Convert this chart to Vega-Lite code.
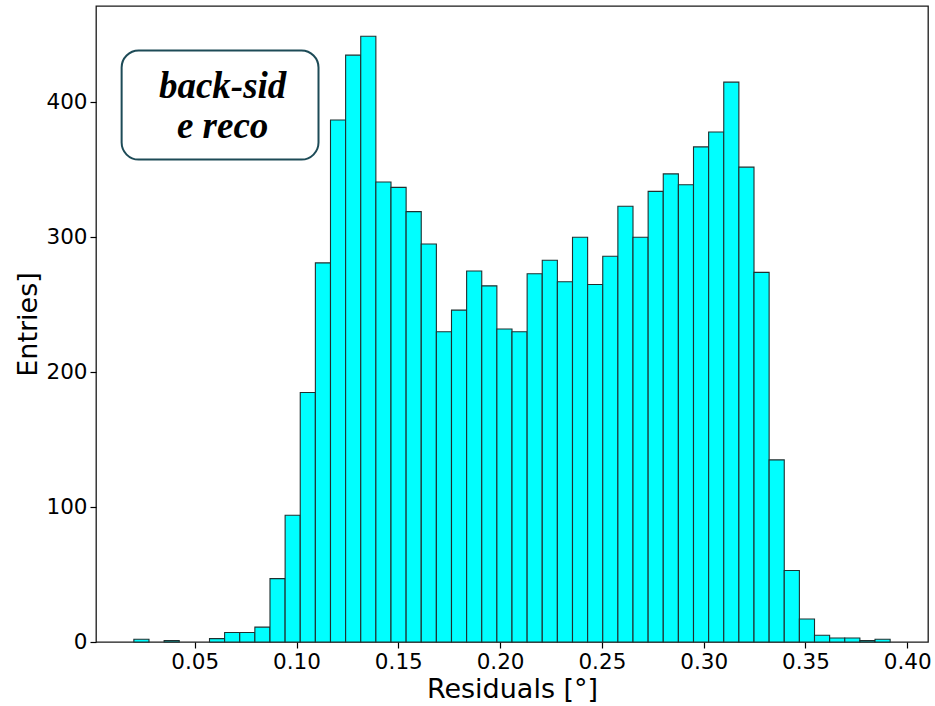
{
  "$schema": "https://vega.github.io/schema/vega-lite/v6.json",
  "width": 832,
  "height": 636,
  "autosize": {"type": "none"},
  "padding": {"left": 96, "top": 6, "right": 7, "bottom": 64},
  "background": "white",
  "config": {"view": {"stroke": "#1a1a1a", "strokeWidth": 1.3}, "font": "DejaVu Sans"},
  "layer": [
    {
      "data": {"values": [
        {"bin_start": 0.0201, "bin_end": 0.02753, "count": 2},
        {"bin_start": 0.03496, "bin_end": 0.04239, "count": 1},
        {"bin_start": 0.05725, "bin_end": 0.06468, "count": 2.5},
        {"bin_start": 0.06468, "bin_end": 0.07211, "count": 7},
        {"bin_start": 0.07211, "bin_end": 0.07954, "count": 7},
        {"bin_start": 0.07954, "bin_end": 0.08697, "count": 11},
        {"bin_start": 0.08697, "bin_end": 0.0944, "count": 47},
        {"bin_start": 0.0944, "bin_end": 0.10183, "count": 94},
        {"bin_start": 0.10183, "bin_end": 0.10926, "count": 185},
        {"bin_start": 0.10926, "bin_end": 0.11669, "count": 281},
        {"bin_start": 0.11669, "bin_end": 0.12412, "count": 387},
        {"bin_start": 0.12412, "bin_end": 0.13155, "count": 435},
        {"bin_start": 0.13155, "bin_end": 0.13898, "count": 449},
        {"bin_start": 0.13898, "bin_end": 0.14641, "count": 341},
        {"bin_start": 0.14641, "bin_end": 0.15384, "count": 337},
        {"bin_start": 0.15384, "bin_end": 0.16127, "count": 319},
        {"bin_start": 0.16127, "bin_end": 0.1687, "count": 295},
        {"bin_start": 0.1687, "bin_end": 0.17613, "count": 230},
        {"bin_start": 0.17613, "bin_end": 0.18356, "count": 246},
        {"bin_start": 0.18356, "bin_end": 0.19099, "count": 275},
        {"bin_start": 0.19099, "bin_end": 0.19842, "count": 264},
        {"bin_start": 0.19842, "bin_end": 0.20585, "count": 232},
        {"bin_start": 0.20585, "bin_end": 0.21328, "count": 230},
        {"bin_start": 0.21328, "bin_end": 0.22071, "count": 273},
        {"bin_start": 0.22071, "bin_end": 0.22814, "count": 283},
        {"bin_start": 0.22814, "bin_end": 0.23557, "count": 267},
        {"bin_start": 0.23557, "bin_end": 0.243, "count": 300},
        {"bin_start": 0.243, "bin_end": 0.25043, "count": 265},
        {"bin_start": 0.25043, "bin_end": 0.25786, "count": 286},
        {"bin_start": 0.25786, "bin_end": 0.26529, "count": 323},
        {"bin_start": 0.26529, "bin_end": 0.27272, "count": 300},
        {"bin_start": 0.27272, "bin_end": 0.28015, "count": 334},
        {"bin_start": 0.28015, "bin_end": 0.28758, "count": 347},
        {"bin_start": 0.28758, "bin_end": 0.29501, "count": 339},
        {"bin_start": 0.29501, "bin_end": 0.30244, "count": 367},
        {"bin_start": 0.30244, "bin_end": 0.30987, "count": 378},
        {"bin_start": 0.30987, "bin_end": 0.3173, "count": 415},
        {"bin_start": 0.3173, "bin_end": 0.32473, "count": 352},
        {"bin_start": 0.32473, "bin_end": 0.33216, "count": 274},
        {"bin_start": 0.33216, "bin_end": 0.33959, "count": 135},
        {"bin_start": 0.33959, "bin_end": 0.34702, "count": 53},
        {"bin_start": 0.34702, "bin_end": 0.35445, "count": 17},
        {"bin_start": 0.35445, "bin_end": 0.36188, "count": 5},
        {"bin_start": 0.36188, "bin_end": 0.36931, "count": 3},
        {"bin_start": 0.36931, "bin_end": 0.37674, "count": 3},
        {"bin_start": 0.37674, "bin_end": 0.38417, "count": 1},
        {"bin_start": 0.38417, "bin_end": 0.3916, "count": 2}
      ]},
      "mark": {"type": "rect", "fill": "#00ffff", "stroke": "#1f2f2f", "strokeWidth": 1.1},
      "encoding": {
        "x": {
          "field": "bin_start", "type": "quantitative",
          "scale": {"domain": [0.0015, 0.4102], "nice": false, "zero": false},
          "axis": {
            "values": [0.05, 0.1, 0.15, 0.2, 0.25, 0.3, 0.35, 0.4],
            "format": ".2f", "title": "Residuals [°]",
            "titleFontSize": 27, "titleFontWeight": "normal", "titleColor": "black",
            "labelFontSize": 21.5, "labelColor": "black",
            "tickColor": "black", "tickSize": 6, "tickWidth": 1.2,
            "domain": false, "grid": false, "labelPadding": 3, "titlePadding": 4, "labelFlush": false
          }
        },
        "x2": {"field": "bin_end"},
        "y": {
          "field": "count", "type": "quantitative",
          "scale": {"domain": [0, 471.45], "nice": false},
          "axis": {
            "values": [0, 100, 200, 300, 400],
            "title": "Entries]",
            "titleFontSize": 27, "titleFontWeight": "normal", "titleColor": "black",
            "labelFontSize": 21.5, "labelColor": "black",
            "tickColor": "black", "tickSize": 6, "tickWidth": 1.2,
            "domain": false, "grid": false, "labelPadding": 3, "titlePadding": 3
          }
        },
        "y2": {"datum": 0}
      }
    },
    {
      "data": {"values": [{}]},
      "mark": {"type": "rect", "fill": "white", "stroke": "#1d4b57", "strokeWidth": 2, "cornerRadius": 17},
      "encoding": {
        "x": {"datum": 0.01409, "type": "quantitative"},
        "x2": {"datum": 0.1108},
        "y": {"datum": 438.4, "type": "quantitative"},
        "y2": {"datum": 357.6}
      }
    },
    {
      "data": {"values": [{}]},
      "mark": {
        "type": "text", "text": ["back-sid", "e reco"],
        "font": "Liberation Serif", "fontStyle": "italic", "fontWeight": "bold",
        "fontSize": 37, "lineHeight": 40, "align": "center", "baseline": "alphabetic", "color": "black"
      },
      "encoding": {
        "x": {"datum": 0.0637, "type": "quantitative"},
        "y": {"datum": 403.6, "type": "quantitative"}
      }
    }
  ]
}
